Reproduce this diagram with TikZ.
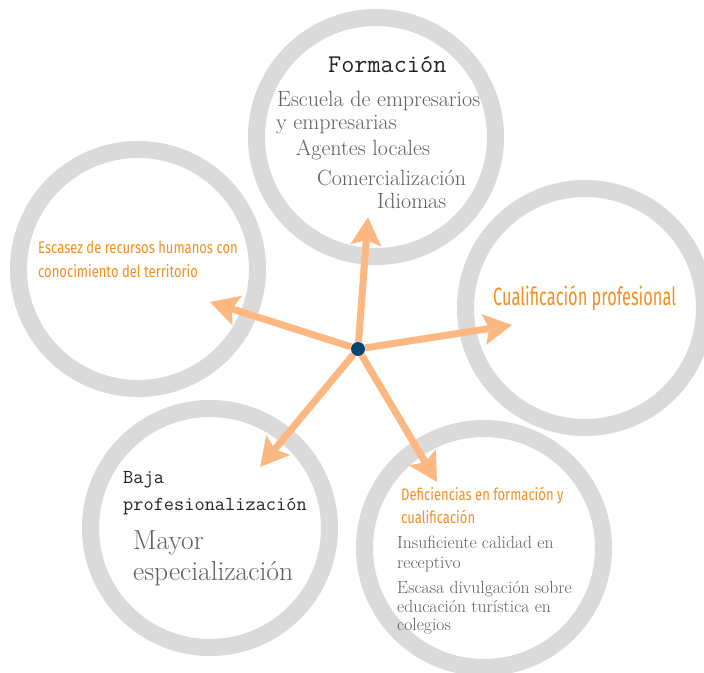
\documentclass[tikz,border=0pt]{standalone}
\usepackage{fontspec}
\newfontfamily\condfont[FakeStretch=0.78]{Fira Sans}
\newfontfamily\narrowfont[FakeStretch=0.655]{Fira Sans}
\usetikzlibrary{arrows.meta}
\definecolor{ringgray}{RGB}{218,218,218}
\definecolor{spokeorange}{RGB}{253,184,130}
\definecolor{issueorange}{RGB}{247,142,30}
\definecolor{itemgray}{RGB}{95,95,95}
\definecolor{hubblue}{RGB}{0,70,110}
\definecolor{headblack}{RGB}{35,35,35}
\begin{document}
\begin{tikzpicture}[x=1pt,y=-1pt,
  ring/.style={circle,draw=ringgray,line width=17pt,minimum size=239pt,inner sep=0pt},
  spoke/.style={draw=spokeorange,line width=7pt,-{Stealth[length=28pt,width=30pt,inset=5pt]}},
  head/.style={anchor=base west,inner sep=0pt,text=headblack},
  item/.style={anchor=base west,inner sep=0pt,text=itemgray},
  issue/.style={anchor=base west,inner sep=0pt,text=issueorange}]
\path[fill=white,use as bounding box] (0,0) rectangle (704,672);
% rings
\node[ring] (ringF) at (376,137) {};
\node[ring] (ringE) at (138,269) {};
\node[ring] (ringC) at (585,308) {};
\node[ring] (ringB) at (210,528) {};
\node[ring] (ringD) at (484,548) {};
% top ring
\node[head,font=\ttfamily\fontsize{25.5}{30}\selectfont] (formacion) at (328,72) {Formación};
\node[item,font=\fontsize{22}{26}\selectfont] (escuela) at (277,106) {Escuela de empresarios};
\node[item,font=\fontsize{22}{26}\selectfont] (empresarias) at (276,129) {y empresarias};
\node[item,font=\fontsize{22}{26}\selectfont] (agentes) at (296,155) {Agentes locales};
\node[item,font=\fontsize{22}{26}\selectfont] (comerc) at (317,185) {Comercialización};
\node[item,font=\fontsize{22}{26}\selectfont] (idiomas) at (377,208) {Idiomas};
% left ring
\node[issue,font=\condfont\fontsize{16.7}{20}\selectfont] (escasez) at (38,253) {Escasez de recursos humanos con};
\node[issue,font=\condfont\fontsize{16.7}{20}\selectfont] (territorio) at (38,277) {conocimiento del territorio};
% right ring
\node[issue,font=\narrowfont\fontsize{25}{30}\selectfont] (cualif) at (493,305) {Cualificación profesional};
% bottom left ring
\node[head,font=\ttfamily\fontsize{19.8}{24}\selectfont] (baja) at (123,483) {Baja};
\node[head,font=\ttfamily\fontsize{19.8}{24}\selectfont] (profes) at (123,510) {profesionalización};
\node[item,font=\fontsize{27.5}{32}\selectfont] (mayor) at (133,549) {Mayor};
\node[item,font=\fontsize{27.5}{32}\selectfont] (especial) at (133,580) {especialización};
% bottom right ring
\node[issue,font=\condfont\fontsize{16.7}{20}\selectfont] (deficiencias) at (401,500) {Deficiencias en formación y};
\node[issue,font=\condfont\fontsize{16.7}{20}\selectfont] (cualificacion) at (401,523) {cualificación};
\node[item,font=\fontsize{17.6}{20}\selectfont] (insuf) at (397,548) {Insuficiente calidad en};
\node[item,font=\fontsize{17.6}{20}\selectfont] (receptivo) at (397,568) {receptivo};
\node[item,font=\fontsize{17.6}{20}\selectfont] (divulg) at (397,593) {Escasa divulgación sobre};
\node[item,font=\fontsize{17.6}{20}\selectfont] (educ) at (397,612) {educación turística en};
\node[item,font=\fontsize{17.6}{20}\selectfont] (colegios) at (397,630) {colegios};
% spokes
\node[circle,fill=hubblue,minimum size=14pt,inner sep=0pt] (hub) at (358,349) {};
\coordinate (tipF) at (368,217);
\coordinate (tipE) at (210,302);
\coordinate (tipC) at (512,325);
\coordinate (tipB) at (260,467);
\coordinate (tipD) at (437,482);
\foreach \t in {tipF,tipE,tipC,tipB,tipD}
  \draw[spoke] (hub)--(\t);
\end{tikzpicture}
\end{document}
